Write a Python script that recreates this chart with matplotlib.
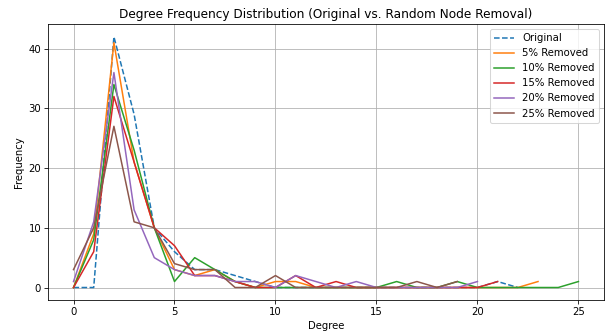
import matplotlib
matplotlib.use('Agg')
import matplotlib.pyplot as plt

# degree frequency counts, index = degree
original = [0, 0, 42, 29, 10, 6, 3, 3, 2, 1, 0, 0, 0, 0, 0, 0, 0, 0, 0, 0, 0, 1, 0]
removed_5 = [0, 9, 41, 21, 10, 3, 2, 3, 1, 0, 1, 1, 0, 0, 0, 0, 0, 0, 0, 0, 0, 0, 0, 1]
removed_10 = [0, 8, 34, 23, 10, 1, 5, 3, 1, 0, 0, 0, 0, 0, 0, 0, 1, 0, 0, 1, 0, 0, 0, 0, 0, 1]
removed_15 = [0, 6, 32, 21, 10, 7, 2, 2, 1, 0, 0, 2, 0, 1, 0, 0, 0, 0, 0, 0, 0, 1]
removed_20 = [1, 11, 36, 13, 5, 3, 2, 2, 1, 1, 0, 2, 1, 0, 1, 0, 0, 0, 0, 0, 1]
removed_25 = [3, 10, 27, 11, 10, 4, 3, 3, 0, 0, 2, 0, 0, 0, 0, 0, 0, 1, 0, 1]

removed = [removed_5, removed_10, removed_15, removed_20, removed_25]
labels = ['5% Removed', '10% Removed', '15% Removed', '20% Removed', '25% Removed']

dpi = 72.7
plt.figure(figsize=(611 / dpi, 336 / dpi), dpi=dpi)
plt.plot(range(len(original)), original, '--', label='Original')
for counts, label in zip(removed, labels):
    plt.plot(range(len(counts)), counts, label=label)

plt.xlabel('Degree')
plt.ylabel('Frequency')
plt.title('Degree Frequency Distribution (Original vs. Random Node Removal)')
plt.legend()
plt.grid(True)
plt.subplots_adjust(left=0.079, right=0.988, top=0.928, bottom=0.107)
plt.savefig('out.png', dpi=dpi)
